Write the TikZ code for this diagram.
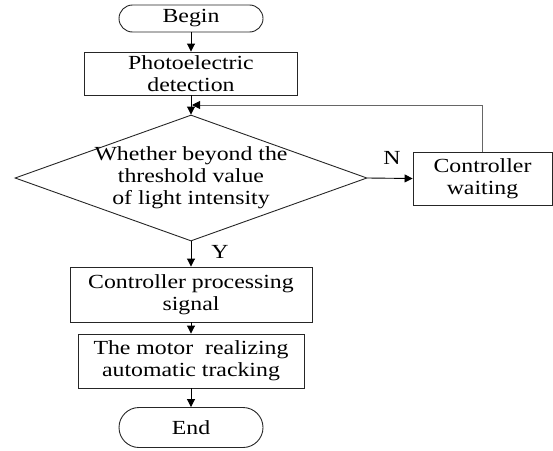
\documentclass[tikz,border=0pt]{standalone}
\usepackage{fontspec}
\setmainfont{Liberation Serif}[FakeStretch=1.19]
\usetikzlibrary{arrows.meta,shapes.geometric}
\begin{document}
\begin{tikzpicture}[x=1pt,y=-1pt,
  every node/.style={font=\fontsize{20}{22}\selectfont},
  box/.style={draw=black!85, line width=0.9pt, inner sep=0pt, align=center},
  term/.style={box, minimum width=144pt},
  arr/.style={-{Triangle[length=8pt,width=8pt,color=black]}, line width=0.9pt, draw=black},
  fbline/.style={arr, draw=black!60}
]
\useasboundingbox (0,0) rectangle (553,450);
\node[term, minimum height=27pt, rounded corners=13.5pt] (begin) at (191,18.5) {Begin};
\node[box, minimum width=213pt, minimum height=43pt] (photo) at (191,73.5) {Photoelectric\\detection};
\node[draw=black!85, line width=0.9pt, diamond, minimum width=352pt, minimum height=126pt, inner sep=0pt] (dec) at (191,178) {};
\node[align=center, inner sep=0pt] (dectext) at (dec.center) {Whether beyond the\\threshold value\\of light intensity};
\node[box, minimum width=139pt, minimum height=53pt] (cw) at (482.5,178.5) {Controller\\waiting};
\node[box, minimum width=242pt, minimum height=55pt] (cp) at (191,294.5) {Controller processing\\signal};
\node[box, minimum width=226pt, minimum height=54pt] (motor) at (191,361) {The motor\ \ realizing\\automatic tracking};
\node[term, minimum height=40pt, rounded corners=20pt] (end) at (191,427.5) {End};
\node (nlab) at (392,158) {N};
\node (ylab) at (220,252) {Y};
\coordinate (fb) at (192,105);
\draw[arr] (begin) -- (photo);
\draw[arr] (photo) -- (dec.north);
\draw[fbline] (cw.north) |- (fb);
\draw[arr] (dec.east) -- (cw.west);
\draw[arr] (dec.south) -- (cp.north);
\draw[arr] (cp) -- (motor);
\draw[arr] (motor) -- (end);
\end{tikzpicture}
\end{document}
